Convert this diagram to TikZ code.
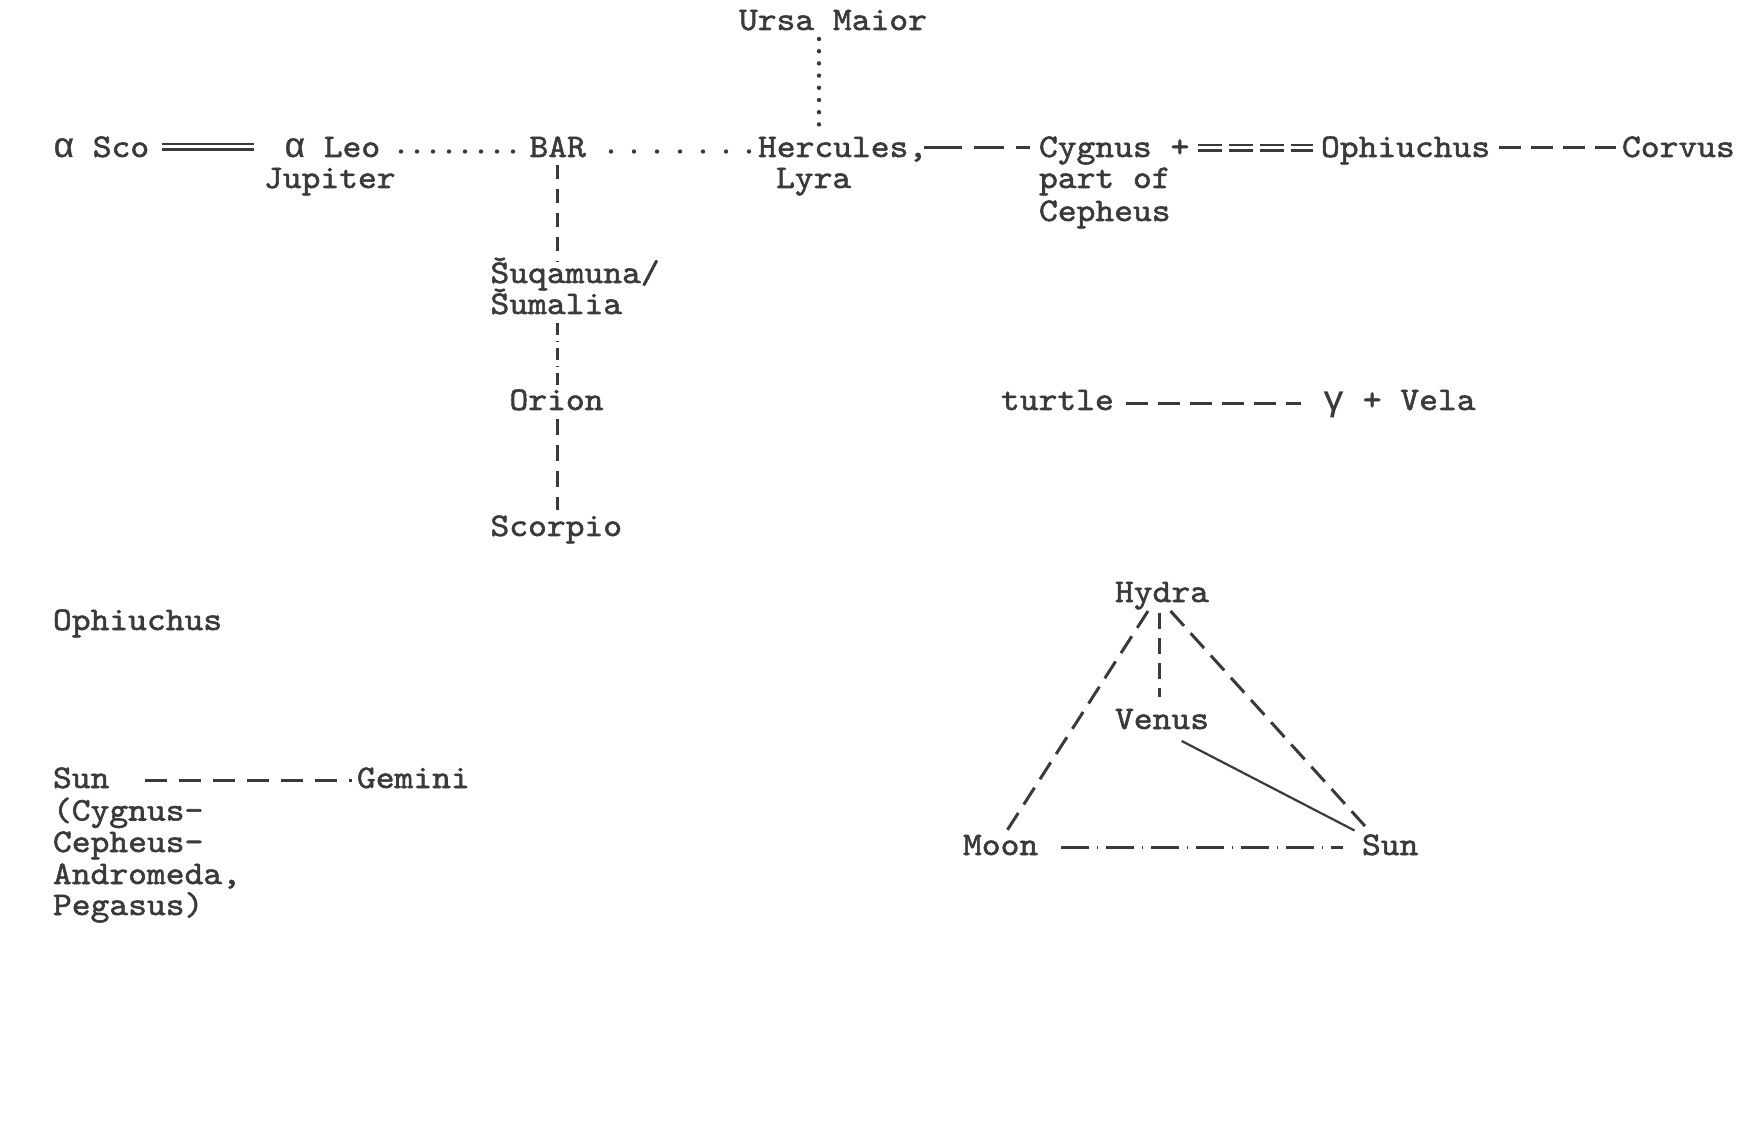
\documentclass[tikz,border=0pt]{standalone}
\usepackage{fontspec}
\newfontfamily\tw[Extension=.otf,FakeBold=1.6,FakeStretch=1.085]{lmmono10-regular}
\newfontfamily\grk[FakeBold=0.8]{Liberation Mono}
\definecolor{ink}{HTML}{3A3A3A}
\newcommand{\myalpha}{{\grk\fontsize{17.5}{15}\selectfont α}}
\newcommand{\mygamma}{{\grk\fontsize{17.5}{15}\selectfont γ}}
\begin{document}
\begin{tikzpicture}[x=0.5pt,y=-0.5pt,
  lbl/.style={anchor=base west,inner sep=0pt,outer sep=0pt,text=ink,text height=10.5pt,text depth=3.5pt,font=\tw\fontsize{16.5}{15}\selectfont},
  con/.style={draw=ink,line width=1.5pt},
  dsh/.style={con,dash pattern=#1},
  dotline/.style={draw=ink,line width=2.2pt,line cap=round,dash pattern=on 0pt off #1},
  dbl/.style={draw=ink,line width=1.2pt,double=white,double distance=1.5pt},
]
\path[use as bounding box,fill=white] (0,0) rectangle (1748,1127);

% labels
\node[lbl] (ursa)   at (739,30)    {Ursa Maior};
\node[lbl] (asco)   at (53,157)    {\myalpha{} Sco};
\node[lbl] (aleo)   at (284,157)   {\myalpha{} Leo};
\node[lbl] (jup)    at (264,188)   {Jupiter};
\node[lbl] (bar)    at (529.5,157) {BAR};
\node[lbl] (herc)   at (758,157)   {Hercules,};
\node[lbl] (lyra)   at (776,188)   {Lyra};
\node[lbl] (cyg)    at (1039,157)  {Cygnus +};
\node[lbl] (partof) at (1039,188)  {part of};
\node[lbl] (ceph)   at (1039,221)  {Cepheus};
\node[lbl] (oph)    at (1321,157)  {Ophiuchus};
\node[lbl] (corv)   at (1622,157)  {Corvus};
\node[lbl] (suq)    at (490.5,283) {Šuqamuna/};
\node[lbl] (suma)   at (490.5,314) {Šumalia};
\node[lbl] (orion)  at (509.5,410) {Orion};
\node[lbl] (scorp)  at (490.5,536) {Scorpio};
\node[lbl] (turtle) at (1001,410)  {turtle};
\node[lbl] (vela)   at (1323,410)  {\mygamma{} + Vela};
\node[lbl] (ophl)   at (53,630)    {Ophiuchus};
\node[lbl] (sunl)   at (53,788)    {Sun};
\node[lbl] (gem)    at (357,788)   {Gemini};
\node[lbl] (cygl)   at (53,820.5)  {(Cygnus-};
\node[lbl] (cephl)  at (53,852)    {Cepheus-};
\node[lbl] (andr)   at (53,884)    {Andromeda,};
\node[lbl] (pega)   at (53,915)    {Pegasus)};
\node[lbl] (hydra)  at (1115,602)  {Hydra};
\node[lbl] (venus)  at (1115,729)  {Venus};
\node[lbl] (moon)   at (963,855)   {Moon};
\node[lbl] (sunr)   at (1362,855)  {Sun};

% top row connectors
\draw[dbl] ([shift={(109,-10)}]asco.base west) -- ([shift={(-30,-10)}]aleo.base west);
\draw[dotline=8pt] ([shift={(117,-5.5)}]aleo.base west) -- ([shift={(-16.5,-5.5)}]bar.base west);
\draw[dotline=11.5pt] ([shift={(81.5,-5.5)}]bar.base west) -- ([shift={(-9,-5.5)}]herc.base west);
\draw[dsh={on 19pt off 6pt on 15pt off 6pt on 7pt off 10pt}] ([shift={(166,-9)}]herc.base west) -- ([shift={(-8,-9)}]cyg.base west);
\draw[dbl,dash pattern=on 12pt off 3.5pt] ([shift={(159,-9)}]cyg.base west) -- ([shift={(-8,-9)}]oph.base west);
\draw[dsh={on 11pt off 5pt}] ([shift={(178,-9)}]oph.base west) -- ([shift={(-6,-9)}]corv.base west);
\draw[dotline=6.1pt] ([shift={(80,9)}]ursa.base west) -- ([shift={(61,-32)}]herc.base west);

% vertical chain
\draw[dsh={on 7pt off 5pt}] ([shift={(27.5,8)}]bar.base west) -- ([shift={(66.5,-21)}]suq.base west);
\draw[dsh={on 6pt off 3pt on 0.5pt off 3pt}] ([shift={(66.5,9)}]suma.base west) -- ([shift={(47.5,-25)}]orion.base west);
\draw[dsh={on 8pt off 5pt}] ([shift={(47.5,9)}]orion.base west) -- ([shift={(66.5,-26)}]scorp.base west);

% middle right and left
\draw[dsh={on 11pt off 5pt}] ([shift={(125,-6.5)}]turtle.base west) -- ([shift={(-22,-6.5)}]vela.base west);
\draw[dsh={on 11pt off 6pt}] ([shift={(92,-8)}]sunl.base west) -- ([shift={(-5,-8)}]gem.base west);

% triangle
\draw[dsh={on 10pt off 5pt}] ([shift={(33,9)}]hydra.base west) -- ([shift={(44,-24.5)}]moon.base west);
\draw[dsh={on 8pt off 4.5pt}] ([shift={(44,11)}]hydra.base west) -- ([shift={(44,-32)}]venus.base west);
\draw[dsh={on 10pt off 5pt}] ([shift={(55.5,9)}]hydra.base west) -- ([shift={(7,-24.5)}]sunr.base west);
\draw[draw=ink,line width=1.1pt] ([shift={(66.7,12)}]venus.base west) -- ([shift={(-7.5,-24.5)}]sunr.base west);
\draw[dsh={on 14pt off 4pt on 0.5pt off 4pt}] ([shift={(98,-8)}]moon.base west) -- ([shift={(-19,-8)}]sunr.base west);
\end{tikzpicture}
\end{document}
